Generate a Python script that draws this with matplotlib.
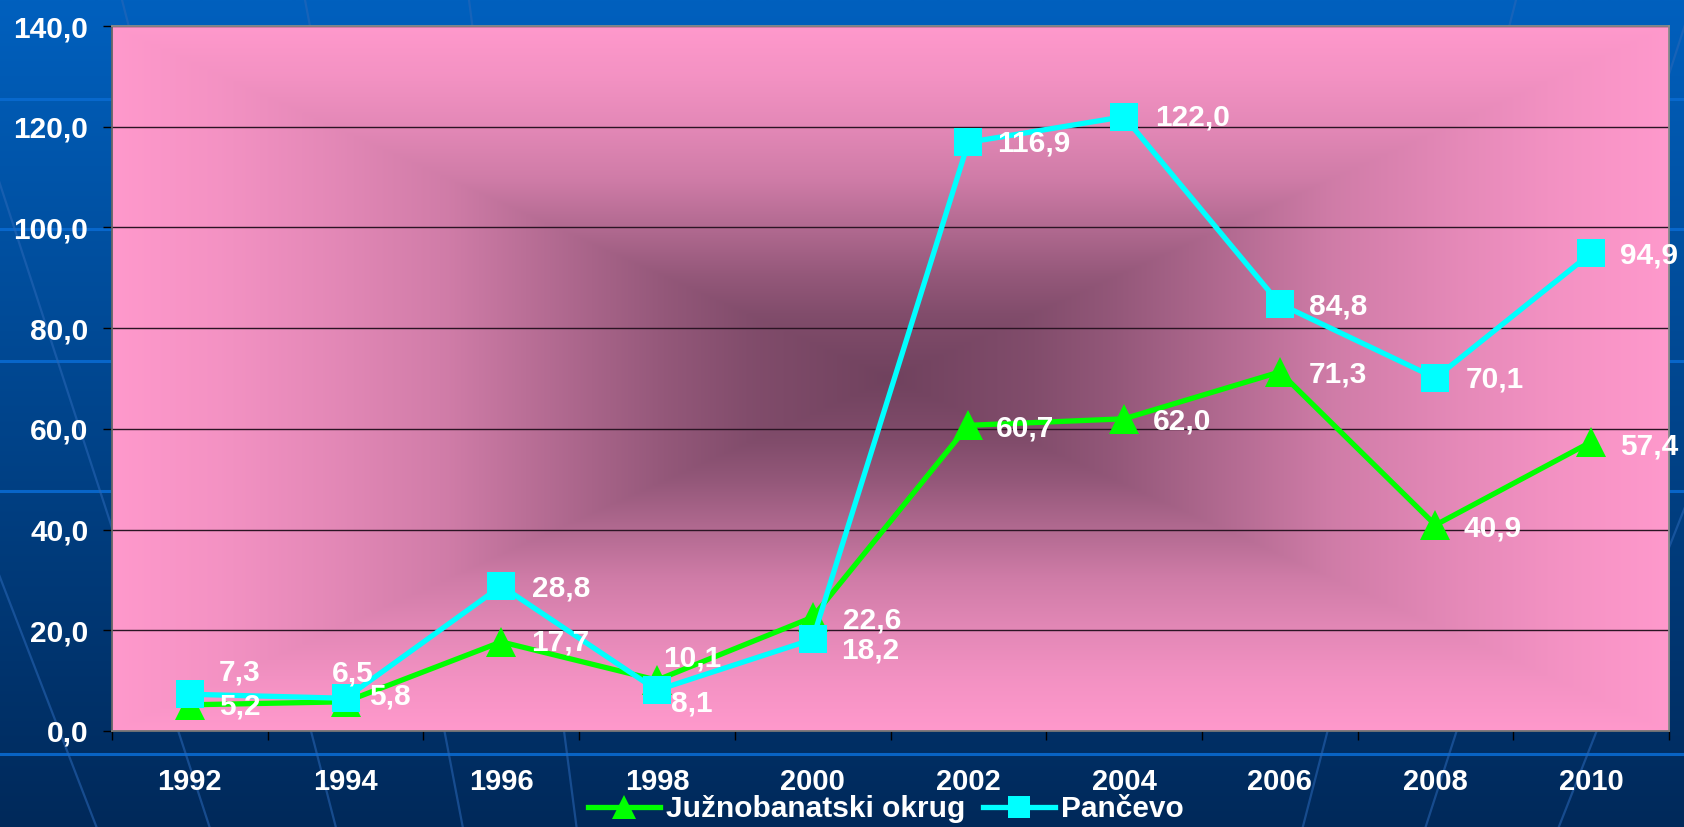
import numpy as np
import matplotlib
matplotlib.use("Agg")
import matplotlib.pyplot as plt
from matplotlib.ticker import FuncFormatter, FixedLocator

plt.rcParams['font.family'] = ['Liberation Sans', 'DejaVu Sans']
plt.rcParams['font.weight'] = 'bold'

# ---------------- data ----------------
years = ['1992', '1994', '1996', '1998', '2000', '2002', '2004', '2006', '2008', '2010']
juzno = [5.2, 5.8, 17.7, 10.1, 22.6, 60.7, 62.0, 71.3, 40.9, 57.4]
pancevo = [7.3, 6.5, 28.8, 8.1, 18.2, 116.9, 122.0, 84.8, 70.1, 94.9]
series_names = ['Južnobanatski okrug', 'Pančevo']
y_ticks = [0, 20, 40, 60, 80, 100, 120, 140]

# label offsets (pixels: right, down) - style only
juz_dx = [29, 24, 30, 6, 30, 28, 29, 29, 28, 29]
juz_dy = [2, -5, 1, -22, 3, 3, 3, 3, 3, 5]
pan_dx = [29, -14, 31, 14, 28, 29, 31, 29, 30, 29]
pan_dy = [-22, -25, 3, 13, 11, 1, 1, 3, 2, 2]

W, H = 1684, 827
fig = plt.figure(figsize=(W / 100, H / 100), dpi=100)

# ---------------- background ----------------
bg = fig.add_axes([0, 0, 1, 1], zorder=-10)
bg.axis('off')
top = np.array([0x00, 0x60, 0xbe]) / 255
bot = np.array([0x00, 0x29, 0x5a]) / 255
g = np.linspace(0, 1, 300)[:, None, None]
bgimg = top + (bot - top) * g
bgimg = np.repeat(bgimg, 2, axis=1)
bg.imshow(bgimg, extent=[0, W, H, 0], aspect='auto', interpolation='bilinear')
for yy in [99, 229, 361, 491, 754]:
    bg.plot([0, W], [yy, yy], color='#0a6ad0', lw=2.2, alpha=0.9)
apex = (820, 2700)
for xt in [-223, -60, 122, 305, 469, 1516, 1693, 1885]:
    bg.plot([apex[0], xt], [apex[1], 0], color='#2a68b8', lw=1.6, alpha=0.55)
bg.set_xlim(0, W)
bg.set_ylim(H, 0)

# ---------------- main axes ----------------
L, R, B, T = 112, 1669, 731, 26
ax = fig.add_axes([L / W, 1 - B / H, (R - L) / W, (B - T) / H])
ax.set_facecolor('none')

# rectangular "from centre" gradient
ny, nx = 400, 800
u = np.linspace(-1, 1, nx)[None, :]
v = np.linspace(-1, 1, ny)[:, None]
t = np.maximum(np.abs(u), np.abs(v))
f = np.interp(t, [0, 0.18, 0.29, 0.43, 0.57, 0.72, 0.86, 1.0],
              [0, 0.12, 0.25, 0.46, 0.67, 0.81, 0.92, 1.0])
edge = np.array([0xff, 0x99, 0xcc]) / 255
cen = np.array([0x70, 0x42, 0x5e]) / 255
img = cen + (edge - cen) * f[..., None]
ax.imshow(img, extent=[0, 1, 0, 1], transform=ax.transAxes, aspect='auto',
          interpolation='bilinear', zorder=0)

x = np.arange(len(years))
lj, = ax.plot(x, juzno, color='#00ff00', lw=3.8, marker='^', ms=21, mew=0,
              zorder=3, label=series_names[0])
lp, = ax.plot(x, pancevo, color='#00ffff', lw=3.8, marker='s', ms=20.5, mew=0,
              zorder=4, label=series_names[1])

ax.set_xlim(-0.5, len(years) - 0.5)
ax.set_ylim(0, 140)

fmt = lambda val: f"{val:.1f}".replace('.', ',')
for vals, dxs, dys in [(juzno, juz_dx, juz_dy), (pancevo, pan_dx, pan_dy)]:
    for i, val in enumerate(vals):
        ax.annotate(fmt(val), (i, val), xytext=(dxs[i] * 0.72, -dys[i] * 0.72),
                    textcoords='offset points', ha='left', va='center',
                    color='white', fontsize=21.5, fontweight='bold', zorder=6)

ax.set_yticks(y_ticks)
ax.yaxis.set_major_formatter(FuncFormatter(lambda val, p: fmt(val)))
ax.yaxis.grid(True, color='#2b1424', lw=1.0)
ax.set_axisbelow(True)
ax.tick_params(axis='y', direction='out', length=6.5, width=1.0, color='black',
               labelcolor='white', labelsize=21.5, pad=10.5)
ax.set_xticks(x)
ax.set_xticklabels(years)
ax.xaxis.set_minor_locator(FixedLocator(np.arange(-0.5, len(years), 1)))
ax.tick_params(axis='x', which='major', length=0, labelcolor='white',
               labelsize=21, pad=26.5)
ax.tick_params(axis='x', which='minor', direction='out', length=6.5, width=1.0,
               color='black')
for lab in ax.get_xticklabels() + ax.get_yticklabels():
    lab.set_fontweight('bold')

for s in ['top', 'right']:
    ax.spines[s].set_color('#8a8a8a')
    ax.spines[s].set_linewidth(1.3)
ax.spines['left'].set_color('#666666')
ax.spines['left'].set_linewidth(1.3)
ax.spines['bottom'].set_color('#777777')
ax.spines['bottom'].set_linewidth(1.3)

fig.legend([lj, lp], series_names, loc='center',
           bbox_to_anchor=(886 / W, 1 - 809 / H), ncol=2, frameon=False,
           prop={'size': 21.5, 'weight': 'bold'}, labelcolor='white',
           handlelength=2.4, handletextpad=0.2, columnspacing=0.6,
           markerscale=0.8, borderpad=0)

fig.savefig('out.png', dpi=100)
